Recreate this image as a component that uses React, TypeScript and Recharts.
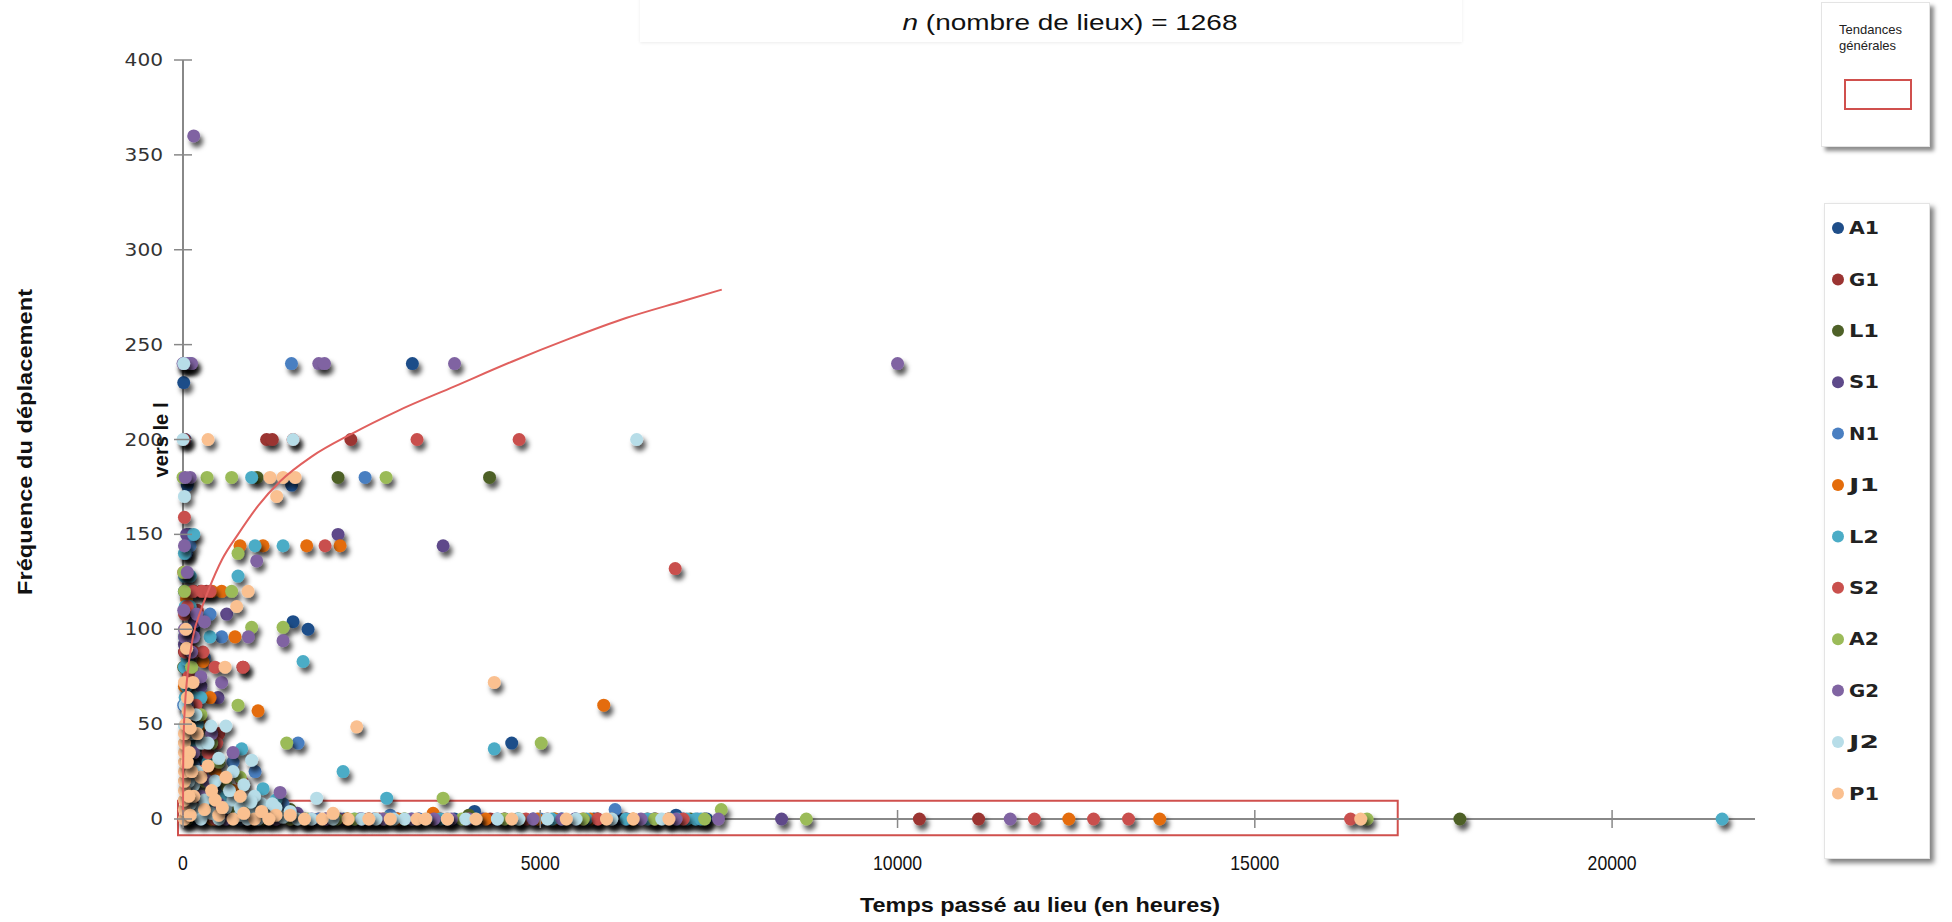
import React from 'react';
import { ScatterChart, Scatter, XAxis, YAxis, ReferenceArea } from 'recharts';

// x = heures passées au lieu, y = fréquence du déplacement
const A1: [number, number][] = [
  [3210, 240], [1540, 104], [1750, 100], [4600, 40], [4080, 4], [7330, 0], [30, 200], [60, 176],
  [1520, 176], [50, 140], [150, 100], [80, 60], [250, 30], [120, 10], [600, 2], [900, 0],
  [1300, 3], [2500, 0], [3800, 0], [5500, 0], [6600, 0], [6900, 2], [40, 0], [300, 0],
  [10, 230], [90, 150], [40, 70], [200, 40], [350, 8], [150, 0], [800, 5], [1700, 0],
  [3500, 2], [4900, 0], [6100, 0], [20, 120], [2250, 0], [5750, 0],
];
const G1: [number, number][] = [
  [1170, 200], [1250, 200], [2349, 200], [10306, 0], [11134, 0], [150, 120], [250, 120], [330, 120],
  [60, 90], [20, 88], [840, 80], [500, 45], [200, 20], [700, 3], [1100, 0], [3000, 0],
  [4500, 0], [6200, 0], [40, 0], [100, 100], [30, 60], [400, 30], [150, 8], [550, 0],
  [950, 5], [1900, 0], [3600, 0], [5100, 0], [6500, 0], [200, 110], [20, 200], [2750, 0], [4300, 0],
];
const L1: [number, number][] = [
  [1036, 180], [2170, 180], [4290, 180], [17870, 0], [60, 0], [450, 2], [900, 0], [1500, 5],
  [2300, 0], [3100, 0], [5200, 0], [30, 40], [150, 15], [10, 80], [250, 5], [1200, 0],
  [2600, 0], [4000, 2], [5800, 0], [7100, 0],
];
const S1: [number, number][] = [
  [2170, 150], [3640, 144], [611, 108], [490, 64], [2470, 0], [5484, 0], [6208, 0], [8377, 0],
  [30, 100], [80, 96], [160, 104], [20, 92], [250, 70], [120, 30], [400, 5], [800, 0],
  [1200, 2], [3000, 0], [4200, 0], [10, 240], [50, 150], [200, 50], [100, 20], [600, 8],
  [1000, 0], [1600, 3], [2200, 0], [3300, 0], [4500, 0], [5800, 0], [6800, 0], [7300, 0],
];
const N1: [number, number][] = [
  [1518, 240], [100, 240], [98, 144], [2548, 180], [378, 108], [541, 96], [1610, 40], [1008, 25],
  [2671, 0], [4680, 0], [6047, 5], [200, 55], [50, 100], [300, 85], [700, 30], [400, 10],
  [1200, 0], [1900, 0], [3300, 0], [5000, 0], [7000, 0], [30, 20], [10, 60], [150, 28],
  [500, 18], [250, 0], [800, 0], [1400, 8], [2100, 0], [2900, 2], [3700, 0], [4400, 0],
  [5300, 0], [6600, 0], [7200, 0], [40, 140],
];
const J1: [number, number][] = [
  [798, 144], [1120, 144], [1731, 144], [2198, 144], [406, 120], [541, 120], [728, 96], [280, 83],
  [378, 64], [1050, 57], [5888, 60], [12397, 0], [13669, 0], [4238, 0], [4962, 0], [700, 15],
  [60, 84], [150, 35], [1500, 0], [2700, 0], [6300, 0], [400, 0], [20, 70], [250, 50],
  [450, 25], [900, 0], [1100, 5], [1700, 0], [2300, 0], [3000, 0], [3500, 3], [5200, 0],
  [5700, 0], [6800, 0], [50, 116],
];
const L2: [number, number][] = [
  [961, 180], [1008, 144], [1400, 144], [20, 140], [770, 128], [20, 128], [100, 128], [30, 112],
  [100, 112], [378, 96], [1680, 83], [20, 80], [30, 64], [150, 64], [250, 64], [821, 37],
  [4356, 37], [2240, 25], [1120, 16], [2851, 11], [5163, 0], [5645, 0], [6811, 0], [6931, 0],
  [7052, 0], [7172, 0], [21540, 0], [1500, 3], [80, 48], [200, 50], [600, 12], [300, 3],
  [2000, 0], [3600, 0], [150, 150], [50, 70], [120, 58], [180, 40], [350, 30], [450, 8],
  [700, 0], [900, 3], [1300, 10], [1700, 0], [2400, 0], [3200, 0], [4100, 0], [4700, 0],
  [5300, 0], [6200, 0], [6500, 0], [7250, 0], [20, 96], [60, 84], [40, 100],
];
const S2: [number, number][] = [
  [1540, 200], [3275, 200], [4704, 200], [20, 159], [1988, 144], [140, 120], [266, 120], [378, 120],
  [20, 108], [30, 88], [155, 88], [280, 88], [448, 80], [840, 80], [6888, 132], [471, 40],
  [821, 20], [5806, 0], [6610, 0], [11915, 0], [12743, 0], [13233, 0], [16340, 0], [600, 3],
  [250, 25], [100, 55], [1300, 0], [2600, 0], [4000, 0], [60, 5], [10, 130], [80, 75],
  [180, 60], [350, 35], [150, 10], [450, 0], [900, 0], [1500, 0], [2000, 0], [2800, 0],
  [3500, 0], [4800, 0], [5600, 0], [7000, 0], [60, 112],
];
const A2: [number, number][] = [
  [0, 180], [336, 180], [681, 180], [2842, 180], [770, 140], [20, 120], [681, 120], [961, 101],
  [1400, 101], [770, 60], [1451, 40], [5013, 40], [3640, 11], [1747, 0], [2149, 0], [2832, 0],
  [7533, 5], [8723, 0], [16571, 0], [300, 20], [150, 25], [500, 30], [100, 45], [900, 8],
  [1100, 0], [4500, 0], [6000, 0], [60, 10], [10, 130], [50, 90], [120, 80], [250, 55],
  [400, 40], [600, 18], [800, 22], [200, 2], [700, 4], [1500, 0], [2400, 0], [3100, 0],
  [3900, 0], [4700, 0], [5600, 0], [6600, 0], [7300, 0],
];
const G2: [number, number][] = [
  [150, 360], [0, 240], [60, 240], [120, 240], [1900, 240], [1980, 240], [3800, 240], [10000, 240],
  [100, 180], [20, 144], [1031, 136], [191, 108], [915, 96], [1400, 94], [20, 96], [150, 96],
  [541, 72], [448, 20], [1358, 14], [3515, 0], [3756, 0], [6409, 0], [7493, 0], [11577, 0],
  [20, 100], [300, 104], [60, 60], [700, 35], [250, 12], [1800, 0], [2800, 0], [5300, 0],
  [600, 0], [30, 180], [60, 130], [10, 110], [120, 88], [250, 75], [400, 45], [150, 35],
  [350, 20], [500, 8], [1000, 2], [1300, 0], [2000, 0], [2500, 0], [3200, 0], [4000, 0],
  [4900, 0], [6000, 0], [6900, 0],
];
const J2: [number, number][] = [
  [0, 200], [1540, 200], [6349, 200], [20, 49], [390, 49], [600, 49], [262, 40], [961, 31],
  [1871, 11], [2952, 0], [3957, 0], [4399, 0], [200, 5], [400, 3], [600, 6], [800, 2],
  [1000, 4], [1200, 3], [1400, 1], [100, 8], [300, 10], [700, 10], [50, 30], [150, 18],
  [250, 0], [500, 0], [900, 0], [1100, 8], [1600, 0], [2500, 0], [60, 55], [120, 45],
  [5500, 0], [3400, 0], [30, 60], [180, 55], [350, 40], [500, 32], [700, 25], [850, 18],
  [1000, 12], [1250, 8], [80, 20], [200, 25], [450, 20], [650, 15], [800, 6], [950, 9],
  [1050, 0], [1300, 6], [1500, 4], [1800, 0], [2100, 0], [2700, 0], [3100, 0], [3700, 0],
  [4700, 0], [5100, 0], [6000, 0], [6700, 0], [10, 240], [20, 170],
];
const P1: [number, number][] = [
  [350, 200], [1218, 180], [1400, 180], [1568, 180], [1311, 170], [910, 120], [751, 112], [588, 80],
  [20, 72], [140, 72], [70, 57], [2431, 48.6], [4356, 72], [1948, 0], [2310, 0], [3274, 0],
  [3394, 0], [5364, 0], [5926, 0], [16482, 0], [20, 0], [20, 5], [20, 10], [20, 15],
  [20, 20], [20, 25], [20, 30], [20, 35], [20, 40], [20, 45], [100, 2], [300, 5],
  [500, 2], [150, 12], [250, 22], [400, 15], [700, 0], [1000, 0], [1300, 2], [60, 64],
  [2100, 3], [40, 50], [90, 35], [120, 25], [200, 45], [350, 28], [450, 10], [550, 6],
  [600, 22], [800, 12], [850, 3], [1100, 4], [1200, 0], [1500, 2], [1700, 0], [2600, 0],
  [2900, 0], [3700, 0], [4100, 0], [4600, 0], [6300, 0], [6800, 0], [50, 90], [40, 100],
  [60, 30], [80, 12], [100, 48],
];

// tendance générale (courbe rouge)
const TREND: [number, number][] = [
  [0, 2], [2, 25], [8, 42], [25, 58], [60, 75], [140, 96], [250, 110], [350, 120],
  [550, 137], [770, 150], [1050, 165], [1360, 178], [1800, 191], [2360, 203], [3000, 215],
  [3800, 228], [4600, 241], [5400, 253], [6200, 264], [7000, 273], [7540, 279],
];

const X_TICKS = [0, 5000, 10000, 15000, 20000];
const Y_TICKS = [0, 50, 100, 150, 200, 250, 300, 350, 400];

const SERIES = [
  { name: 'A1', color: '#1F4E89', data: A1 },
  { name: 'G1', color: '#9B3432', data: G1 },
  { name: 'L1', color: '#4E6128', data: L1 },
  { name: 'S1', color: '#5E4A8A', data: S1 },
  { name: 'N1', color: '#4A7FC1', data: N1 },
  { name: 'J1', color: '#E46C0A', data: J1 },
  { name: 'L2', color: '#4BACC6', data: L2 },
  { name: 'S2', color: '#C9504D', data: S2 },
  { name: 'A2', color: '#9BBB59', data: A2 },
  { name: 'G2', color: '#8064A2', data: G2 },
  { name: 'J2', color: '#B7DDE8', data: J2 },
  { name: 'P1', color: '#FAC090', data: P1 },
];

const toPts = (arr: [number, number][]) => arr.map(([x, y]) => ({ x, y }));

const AXIS = '#888888';

const makeDot = (color: string) => (props: any) => (
  <circle cx={props.cx} cy={props.cy} r={6.5} fill={color} filter="url(#dotShadow)" />
);

const XTick = (props: any) => {
  const { x, y, payload } = props;
  const s = String(payload.value);
  return (
    <g>
      <line x1={x} x2={x} y1={y - 9} y2={y + 9} stroke={AXIS} strokeWidth={1.5} />
      <text x={x} y={y + 44} dy="0.35em" textAnchor="middle" fontFamily="'Liberation Sans Narrow', 'Liberation Sans', sans-serif"
        fontSize={21} fill="#111" textLength={s.length * 9.8} lengthAdjust="spacingAndGlyphs">{s}</text>
    </g>
  );
};

const YTick = (props: any) => {
  const { x, y, payload } = props;
  const s = String(payload.value);
  return (
    <g>
      <line x1={x - 9} x2={x + 9} y1={y} y2={y} stroke={AXIS} strokeWidth={1.5} />
      <text x={x - 20} y={y} dy="0.36em" textAnchor="end" fontFamily="'DejaVu Sans', Verdana, sans-serif"
        fontSize={17} fill="#333" textLength={s.length * 12.8} lengthAdjust="spacingAndGlyphs">{s}</text>
    </g>
  );
};

export default function App() {
  return (
    <div style={{ position: 'absolute', left: 0, top: 0, width: 1952, height: 922, background: '#fff', overflow: 'hidden' }}>
      <svg width={0} height={0} style={{ position: 'absolute' }}>
        <defs>
          <filter id="dotShadow" x="-100%" y="-100%" width="300%" height="300%">
            <feDropShadow dx="3" dy="5" stdDeviation="2.5" floodColor="#000" floodOpacity="0.65" />
          </filter>
        </defs>
      </svg>

      {/* cadre pâle derrière le titre */}
      <div style={{ position: 'absolute', left: 640, top: -6, width: 822, height: 48, background: '#fff', boxShadow: '0 1px 3px rgba(0,0,0,0.08)' }} />

      <ScatterChart width={1952} height={922} margin={{ top: 60, right: 197, bottom: 53, left: 123 }}
        style={{ position: 'absolute', left: 0, top: 0 }}>
        <XAxis type="number" dataKey="x" domain={[0, 22000]} ticks={X_TICKS} interval={0} height={50}
          tickSize={0} tickMargin={0} tick={<XTick />} axisLine={{ stroke: AXIS, strokeWidth: 2 }} tickLine={false} />
        <YAxis type="number" dataKey="y" domain={[0, 400]} ticks={Y_TICKS} interval={0} width={60}
          tickSize={0} tickMargin={0} tick={<YTick />} axisLine={{ stroke: AXIS, strokeWidth: 2 }} tickLine={false} />
        {SERIES.map((s) => (
          <Scatter key={s.name} name={s.name} data={toPts(s.data)} fill={s.color}
            shape={makeDot(s.color)} isAnimationActive={false} />
        ))}
        <Scatter name="tendance" data={toPts(TREND)} line={{ stroke: '#E0605E', strokeWidth: 2 }}
          lineJointType="monotoneX" shape={() => <g />} isAnimationActive={false} />
        <ReferenceArea x1={-70} x2={17000} y1={-8.5} y2={9.6} ifOverflow="visible"
          fill="none" fillOpacity={0} stroke="#D0504D" strokeWidth={2} />
      </ScatterChart>

      <svg width={1952} height={922} style={{ position: 'absolute', left: 0, top: 0, pointerEvents: 'none' }}>
        <text x={1070} y={22} dy="0.35em" textAnchor="middle" fontFamily="'Liberation Sans Narrow', 'Liberation Sans', sans-serif"
          fontSize={22} fill="#111" textLength={335} lengthAdjust="spacingAndGlyphs">
          <tspan fontStyle="italic">n</tspan> (nombre de lieux) = 1268
        </text>
        <text x={1040} y={905} dy="0.35em" textAnchor="middle" fontFamily="'Liberation Sans Narrow', 'Liberation Sans', sans-serif"
          fontSize={21} fontWeight="bold" fill="#111" textLength={360} lengthAdjust="spacingAndGlyphs">
          Temps passé au lieu (en heures)
        </text>
        <text transform="translate(25,442) rotate(-90)" dy="0.35em" textAnchor="middle"
          fontFamily="'Liberation Sans Narrow', 'Liberation Sans', sans-serif" fontSize={21} fontWeight="bold" fill="#111"
          textLength={306} lengthAdjust="spacingAndGlyphs">
          Fréquence du déplacement
        </text>
        <text transform="translate(161,440) rotate(-90)" dy="0.35em" textAnchor="middle"
          fontFamily="'Liberation Sans Narrow', 'Liberation Sans', sans-serif" fontSize={20} fontWeight="bold" fill="#111"
          textLength={75} lengthAdjust="spacingAndGlyphs">
          vers le l
        </text>
      </svg>

      {/* légende des tendances */}
      <div style={{ position: 'absolute', left: 1821, top: 2, width: 109, height: 145, background: '#fff', border: '1px solid #e4e4e4',
        boxShadow: '4px 4px 4px rgba(0,0,0,0.45)', boxSizing: 'border-box' }}>
        <div style={{ position: 'absolute', left: 17, top: 19, fontFamily: "'Liberation Sans', Arial, sans-serif", fontSize: 13,
          lineHeight: '16px', color: '#222' }}>
          Tendances<br />générales
        </div>
        <div style={{ position: 'absolute', left: 22, top: 76, width: 68, height: 31, border: '2px solid #D0504D', boxSizing: 'border-box' }} />
      </div>

      {/* légende des séries */}
      <div style={{ position: 'absolute', left: 1824, top: 203, width: 106, height: 656, background: '#fff', border: '1px solid #e4e4e4',
        boxShadow: '4px 4px 5px rgba(0,0,0,0.5)', boxSizing: 'border-box' }}>
        <svg width={104} height={654}>
          {SERIES.map((s, i) => (
            <g key={s.name}>
              <circle cx={13} cy={24 + i * 51.4} r={6} fill={s.color} />
              <text x={24} y={24 + i * 51.4} dy="0.36em" fontFamily="'DejaVu Sans', Verdana, sans-serif" fontSize={17}
                fontWeight="bold" fill="#222" textLength={30} lengthAdjust="spacingAndGlyphs">{s.name}</text>
            </g>
          ))}
        </svg>
      </div>
    </div>
  );
}
